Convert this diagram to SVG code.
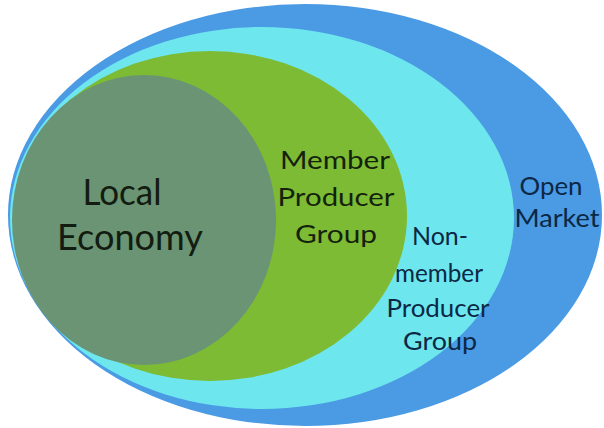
<svg xmlns="http://www.w3.org/2000/svg" width="604" height="428" viewBox="0 0 604 428">
<style>
text{font-family:Lato,"Open Sans","DejaVu Sans",sans-serif;text-anchor:middle}
.big{font-size:37px;fill:#121c10}
.mid{font-size:25px}
.g{fill:#14220c}
.b{fill:#0c2844}
</style>
<rect width="604" height="428" fill="#ffffff"/>
<g id="open-market">
<ellipse cx="305" cy="215" rx="297" ry="211" fill="#4a9ae4"/>
<text class="mid b" x="551" y="195" textLength="63" lengthAdjust="spacingAndGlyphs">Open</text>
<text class="mid b" x="557" y="227" textLength="85" lengthAdjust="spacingAndGlyphs">Market</text>
</g>
<g id="non-member-producer-group">
<ellipse cx="262" cy="218" rx="252" ry="191" fill="#6de6ee"/>
<text class="mid b" x="440" y="245" textLength="56" lengthAdjust="spacingAndGlyphs">Non-</text>
<text class="mid b" x="439" y="282" textLength="88" lengthAdjust="spacingAndGlyphs">member</text>
<text class="mid b" x="438" y="317" textLength="103" lengthAdjust="spacingAndGlyphs">Producer</text>
<text class="mid b" x="440" y="350" textLength="74" lengthAdjust="spacingAndGlyphs">Group</text>
</g>
<g id="member-producer-group">
<ellipse cx="210" cy="216" rx="197" ry="165" fill="#7dbb35"/>
<text class="mid g" x="335" y="169" textLength="110" lengthAdjust="spacingAndGlyphs">Member</text>
<text class="mid g" x="336" y="206" textLength="117" lengthAdjust="spacingAndGlyphs">Producer</text>
<text class="mid g" x="336" y="243" textLength="82" lengthAdjust="spacingAndGlyphs">Group</text>
</g>
<g id="local-economy">
<ellipse cx="144" cy="220" rx="132" ry="145" fill="#6a9473"/>
<text class="big" x="122" y="205" textLength="79" lengthAdjust="spacingAndGlyphs">Local</text>
<text class="big" x="130" y="250" textLength="146" lengthAdjust="spacingAndGlyphs">Economy</text>
</g>
</svg>
